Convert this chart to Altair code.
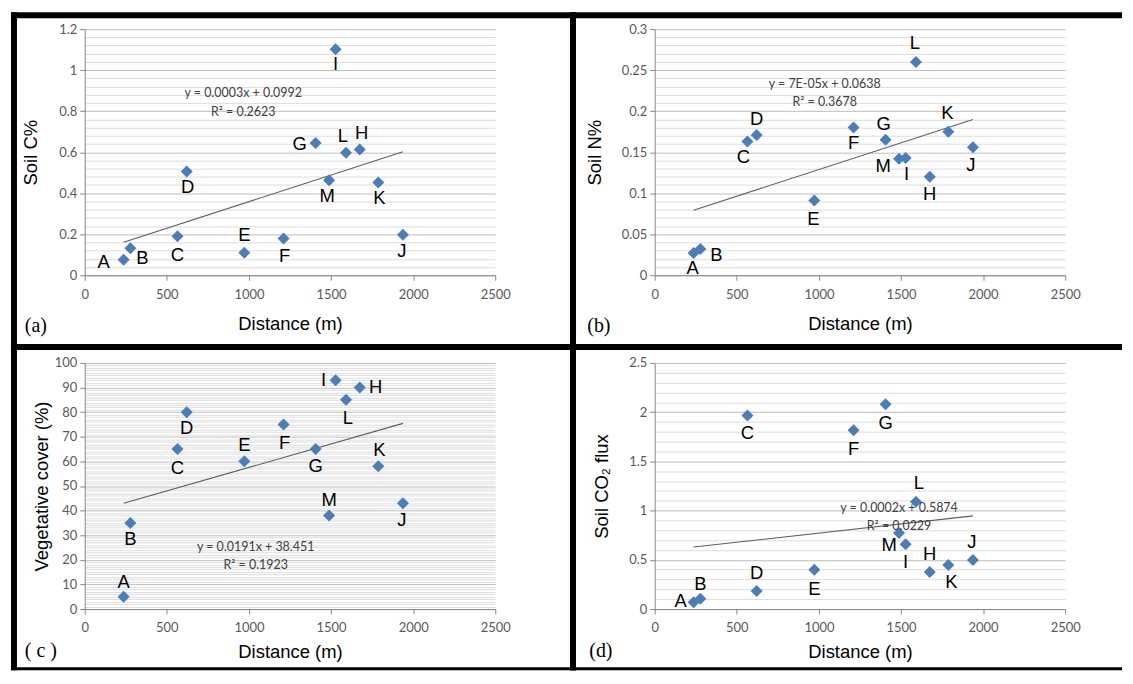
import altair as alt
import pandas as pd

# ---------------- data ----------------
sites = list("ABCDEFGHIJKLM")
distance = [237, 278, 565, 621, 972, 1211, 1406, 1675, 1528, 1938, 1788, 1591, 1488]
soil_c = [0.076, 0.132, 0.19, 0.506, 0.11, 0.179, 0.645, 0.613, 1.102, 0.198, 0.452, 0.597, 0.463]
soil_n = [0.027, 0.032, 0.163, 0.171, 0.091, 0.18, 0.165, 0.12, 0.143, 0.156, 0.175, 0.26, 0.142]
veg_cover = [5, 35, 65, 80, 60, 75, 65, 90, 93, 43, 58, 85, 38]
co2_flux = [0.068, 0.105, 1.967, 0.183, 0.40, 1.815, 2.079, 0.377, 0.658, 0.499, 0.448, 1.089, 0.773]

x_ticks = [0, 500, 1000, 1500, 2000, 2500]

eq_a = ["y = 0.0003x + 0.0992", "R\u00b2 = 0.2623"]
eq_b = ["y = 7E-05x + 0.0638", "R\u00b2 = 0.3678"]
eq_c = ["y = 0.0191x + 38.451", "R\u00b2 = 0.1923"]
eq_d = ["y = 0.0002x + 0.5874", "R\u00b2 = 0.0229"]

# ---------------- layout / annotation placement ----------------
# label offsets (px) of the site letters from their diamonds
off_a = [(-20, 2), (12, 10), (0, 19), (1, 16), (0, -18), (1, 18), (-16, 1), (2, -17), (0, 15), (-1, 16), (1, 16), (-3, -17), (-2, 16)]
off_b = [(-1, 15), (16, 6), (-4, 16), (0, -16), (-1, 19), (0, 16), (-2, -16), (0, 17), (1, 16), (-2, 18), (-1, -19), (-1, -19), (-16, 7)]
off_c = [(0, -15), (0, 16), (0, 19), (0, 16), (0, -16), (1, 19), (0, 17), (16, -1), (-12, 0), (-1, 17), (1, -16), (2, 18), (0, -16)]
off_d = [(-13, -1), (0, -15), (0, 18), (0, -18), (0, 19), (0, 19), (0, 19), (0, -18), (0, 18), (-1, -18), (3, 17), (3, -19), (-10, 12)]

W, H = 412, 247
BLUE = "#4A7EBB"
TREND = "#5E5E5E"
MAJOR = "#BDBDBD"
MINOR = "#DCDCDC"
AXIS = "#868686"


def panel(values, ymax, major, minor, ytitle, ytpad, offsets, eq, eq_pos, edges,
          letter, letter_pos, xtpad):
    df = pd.DataFrame({"site": sites, "dist": distance, "val": values})
    n = int(round(ymax / minor))
    yvals = [round(i * minor, 6) for i in range(n + 1)]
    test = f"abs(datum.value/{major} - round(datum.value/{major})) < 1e-6"
    X = alt.X("dist:Q",
              scale=alt.Scale(domain=[0, 2500], nice=False),
              axis=alt.Axis(values=x_ticks, format="d", grid=False, title="Distance (m)",
                            labelFlush=False, tickSize=5, labelPadding=8,
                            titlePadding=xtpad))
    Y = alt.Y("val:Q",
              scale=alt.Scale(domain=[0, ymax], nice=False),
              axis=alt.Axis(values=yvals, grid=True,
                            gridColor={"condition": {"test": test, "value": MAJOR}, "value": MINOR},
                            tickOpacity={"condition": {"test": test, "value": 1}, "value": 0},
                            labelExpr=f"{test} ? format(datum.value, '~g') : ''",
                            labelOverlap=False, labelFlush=False,
                            title=ytitle, titlePadding=ytpad, tickSize=5, labelPadding=3))

    trend = alt.Chart(df).transform_regression("dist", "val").mark_line(
        color=TREND, strokeWidth=1.1).encode(x=X, y=Y)
    pts = alt.Chart(df).mark_point(shape="diamond", filled=True, size=145, color=BLUE,
                                   opacity=1).encode(x=X, y=Y)
    layers = [trend, pts]
    # site letters, one layer per distinct offset
    groups = {}
    for i, o in enumerate(offsets):
        groups.setdefault(o, []).append(i)
    for (dx, dy), idx in groups.items():
        sub = df.iloc[idx]
        layers.append(alt.Chart(sub).mark_text(font="Liberation Sans", fontSize=18.5, color="black",
                                               dx=dx, dy=dy).encode(x=X, y=Y, text="site:N"))
    eqdf = pd.DataFrame({"dist": [eq_pos[0], eq_pos[0]], "val": [eq_pos[1], eq_pos[2]], "t": eq})
    layers.append(alt.Chart(eqdf).mark_text(font="Lato", fontSize=12.5, color="#404040").encode(
        x=X, y=Y, text="t:N"))

    one = pd.DataFrame({"k": [0]})
    for (x1, y1, x2, y2, w) in edges:
        if x1 == x2:
            enc = dict(x=alt.value(x1), y=alt.value(y1), y2=alt.value(y2))
        else:
            enc = dict(y=alt.value(y1), x=alt.value(x1), x2=alt.value(x2))
        layers.append(alt.Chart(one).mark_rule(color="black", strokeWidth=w).encode(**enc))
    layers.append(alt.Chart(one).mark_text(font="Liberation Serif", fontSize=20, color="black").encode(
        x=alt.value(letter_pos[0]), y=alt.value(letter_pos[1]), text=alt.value(letter)))
    return alt.layer(*layers).properties(width=W, height=H)


edges_a = [(-71, -17, -71, 322, 6), (-74, -14, 493, -14, 6), (490, -17, 490, 322, 6), (-74, 319, 493, 319, 6)]
edges_b = [(-85, -14, 469, -14, 6), (-82, -17, -82, 322, 6), (-85, 319, 469, 319, 6)]
edges_c = [(-71, -19, -71, 308.5, 6), (490, -19, 490, 308.5, 6), (-74, -16, 493, -16, 6), (-74, 307, 493, 307, 3)]
edges_d = [(-85, -16, 469, -16, 6), (-85, 307, 469, 307, 3), (-82, -19, -82, 308.5, 6)]

pa = panel(soil_c, 1.2, 0.2, 0.04, "Soil C%", 18, off_a, eq_a, (965, 0.89, 0.798), edges_a,
           "(a)", (-49, 298), 13)
pb = panel(soil_n, 0.3, 0.05, 0.01, "Soil N%", 17, off_b, eq_b, (1035, 0.2335, 0.211), edges_b,
           "(b)", (-56, 298), 13)
pc = panel(veg_cover, 100, 10, 1, "Vegetative cover (%)", 3, off_c, eq_c, (1041, 25.4, 17.9), edges_c,
           "( c )", (-44, 289), 8)
pd_ = panel(co2_flux, 2.5, 0.5, 0.1, "Soil CO\u2082 flux", 17, off_d, eq_d, (1488, 1.031, 0.841), edges_d,
            "(d)", (-54, 289), 8)

chart = alt.concat(pa, pb, pc, pd_, columns=2, spacing={"row": 88, "column": 160},
                   bounds="flush").properties(
    padding=0, background="white"
).configure_view(strokeWidth=0).configure_axis(
    labelFont="Lato", labelFontSize=13, labelColor="#595959",
    titleFont="Liberation Sans", titleFontSize=18.5, titleFontWeight="normal", titleColor="black",
    domainColor=AXIS, tickColor=AXIS, domainWidth=1, tickWidth=1,
)

chart.save("out.html", embed_options={"renderer": "svg", "actions": False})
